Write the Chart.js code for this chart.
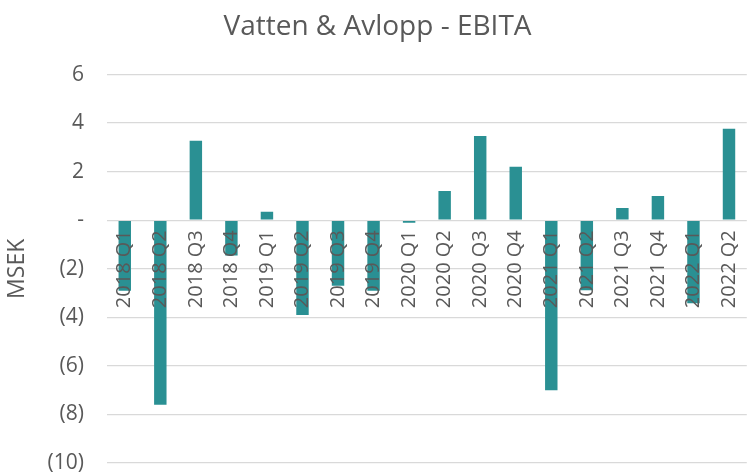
<!DOCTYPE html>
<html>
<head>
<meta charset="utf-8">
<script src="https://cdn.jsdelivr.net/npm/chart.js@4"></script>
<style>
  html, body { margin: 0; padding: 0; background: #fff; overflow: hidden; }
  #wrap { width: 755px; height: 472px; }
</style>
</head>
<body>
<div id="wrap"><canvas id="ebitaChart"></canvas></div>
<script>
const quarters = ['2018 Q1', '2018 Q2', '2018 Q3', '2018 Q4', '2019 Q1', '2019 Q2',
    '2019 Q3', '2019 Q4', '2020 Q1', '2020 Q2', '2020 Q3', '2020 Q4',
    '2021 Q1', '2021 Q2', '2021 Q3', '2021 Q4', '2022 Q1', '2022 Q2'];
const ebita = [-2.9, -7.6, 3.27, -1.45, 0.35, -3.9, -2.7, -2.9, -0.1, 1.2,
    3.47, 2.2, -7.0, -2.88, 0.5, 1.0, -3.42, 3.77];
const yTicks = [6, 4, 2, 0, -2, -4, -6, -8, -10];

const textColor = '#595959';
const fontFamily = '"Open Sans", "Noto Sans", sans-serif';

new Chart(document.getElementById('ebitaChart'), {
    type: 'bar',
    data: {
        labels: quarters,
        datasets: [{
            label: 'EBITA',
            data: ebita,
            backgroundColor: '#2A9093',
            barPercentage: 0.35,
            categoryPercentage: 1,
        }]
    },
    options: {
        responsive: true,
        maintainAspectRatio: false,
        animation: false,
        layout: { padding: { top: 0, right: 0, bottom: 9, left: 0 } },
        plugins: {
            legend: { display: false },
            tooltip: { enabled: false },
            title: {
                display: true,
                text: 'Vatten & Avlopp - EBITA',
                color: textColor,
                font: { family: fontFamily, size: 28, weight: 'normal' },
                padding: { top: 10, bottom: 31 },
            },
        },
        scales: {
            x: {
                position: { y: 0 },
                grid: { display: false },
                border: { display: false },
                ticks: {
                    z: 1,
                    color: textColor,
                    font: { family: fontFamily, size: 20 },
                    minRotation: 90,
                    maxRotation: 90,
                    padding: 2,
                    autoSkip: false,
                },
            },
            y: {
                min: -10,
                max: 6,
                afterBuildTicks: (scale) => {
                    scale.ticks = yTicks.map(v => ({ value: v }));
                },
                grid: { color: '#d9d9d9', lineWidth: 1.3, drawTicks: false },
                border: { display: false },
                ticks: {
                    color: textColor,
                    font: { family: fontFamily, size: 21 },
                    padding: 23,
                    callback: (v) => v === 0 ? '-' : (v < 0 ? '(' + Math.abs(v) + ')' : String(v)),
                },
                title: {
                    display: true,
                    text: 'MSEK',
                    color: textColor,
                    font: { family: fontFamily, size: 23 },
                },
                afterFit: (scale) => {
                    scale.width = 107;
                    scale.paddingTop = 0;
                    scale.paddingBottom = 0;
                },
            }
        }
    }
});
</script>
</body>
</html>
